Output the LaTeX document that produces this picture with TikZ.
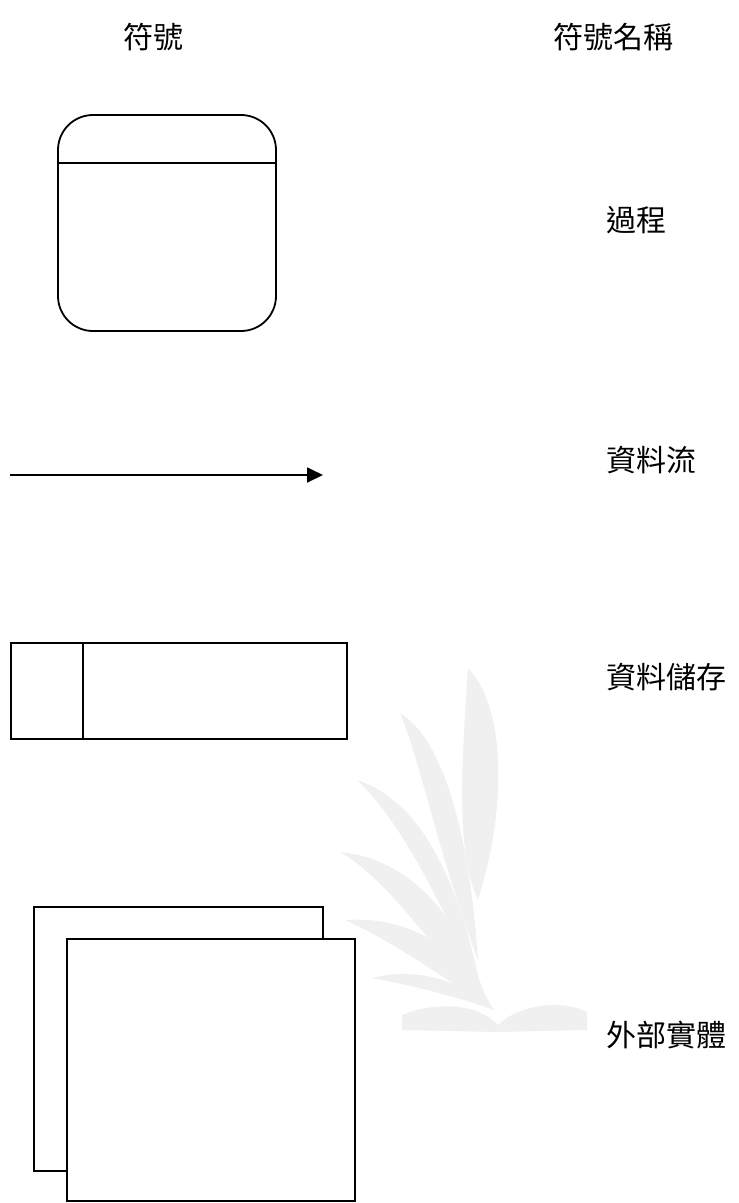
\documentclass[tikz,border=0pt]{standalone}
\usepackage{fontspec}
\newfontfamily\cjk{Noto Sans CJK TC}
\usetikzlibrary{arrows.meta}
\tikzset{
  shapeline/.style={draw=black, line width=1.8pt},
  label/.style={font=\cjk\fontsize{30}{30}\selectfont, inner sep=0pt, anchor=west},
  head/.style={font=\cjk\fontsize{30}{30}\selectfont, inner sep=0pt},
  wm/.style={fill=black!6, draw=none}
}
\begin{document}
\begin{tikzpicture}[x=1pt,y=-1pt]
\useasboundingbox (0,0) rectangle (739,1203);
% watermark
\fill[wm] (468,668) .. controls (500,700) and (512,790) .. (478,900) .. controls (455,850) and (462,760) .. (468,668) -- cycle;
\fill[wm] (400,713) .. controls (445,740) and (470,840) .. (478,960) .. controls (440,860) and (420,760) .. (400,713) -- cycle;
\fill[wm] (357,780) .. controls (420,800) and (460,880) .. (482,995) .. controls (440,900) and (400,820) .. (357,780) -- cycle;
\fill[wm] (340,852) .. controls (420,860) and (465,930) .. (488,1005) .. controls (440,960) and (390,880) .. (340,852) -- cycle;
\fill[wm] (345,920) .. controls (420,915) and (470,960) .. (493,1010) .. controls (440,975) and (390,940) .. (345,920) -- cycle;
\fill[wm] (372,978) .. controls (420,965) and (470,985) .. (495,1010) .. controls (450,995) and (410,985) .. (372,978) -- cycle;
\fill[wm] (402,1030) -- (402,1015) .. controls (440,1000) and (480,1005) .. (498,1025) -- (498,1032) -- cycle;
\fill[wm] (498,1025) .. controls (520,1003) and (565,1000) .. (587,1012) -- (587,1030) -- (498,1032) -- cycle;

% headers
\node[head] (h1) at (153,37) {符號};
\node[head] (h2) at (613,37) {符號名稱};

% process
\node[shapeline, rounded corners=35pt, minimum width=218pt, minimum height=216pt, inner sep=0pt] (proc) at (167,223) {};
\coordinate (pdl) at (58,163);
\coordinate (pdr) at (276,163);
\draw[line width=1.8pt] (pdl) -- (pdr);
\node[label] (lproc) at (606,220) {過程};

% data flow
\coordinate (fa) at (10,475);
\coordinate (fb) at (323,475);
\draw[line width=1.8pt, -{Triangle[length=16pt,width=15pt]}] (fa) -- (fb);
\node[label] (lflow) at (606,460) {資料流};

% data store
\node[shapeline, minimum width=336pt, minimum height=96pt, inner sep=0pt] (store) at (179,691) {};
\coordinate (sdt) at (83,643);
\coordinate (sdb) at (83,739);
\draw[line width=1.8pt] (sdt) -- (sdb);
\node[label] (lstore) at (606,677) {資料儲存};

% external entity
\node[shapeline, fill=white, minimum width=289pt, minimum height=264pt, inner sep=0pt] (ext1) at (178.5,1039) {};
\node[shapeline, fill=white, minimum width=288pt, minimum height=262pt, inner sep=0pt] (ext2) at (211,1070) {};
\node[label] (lext) at (606,1035) {外部實體};
\end{tikzpicture}
\end{document}
